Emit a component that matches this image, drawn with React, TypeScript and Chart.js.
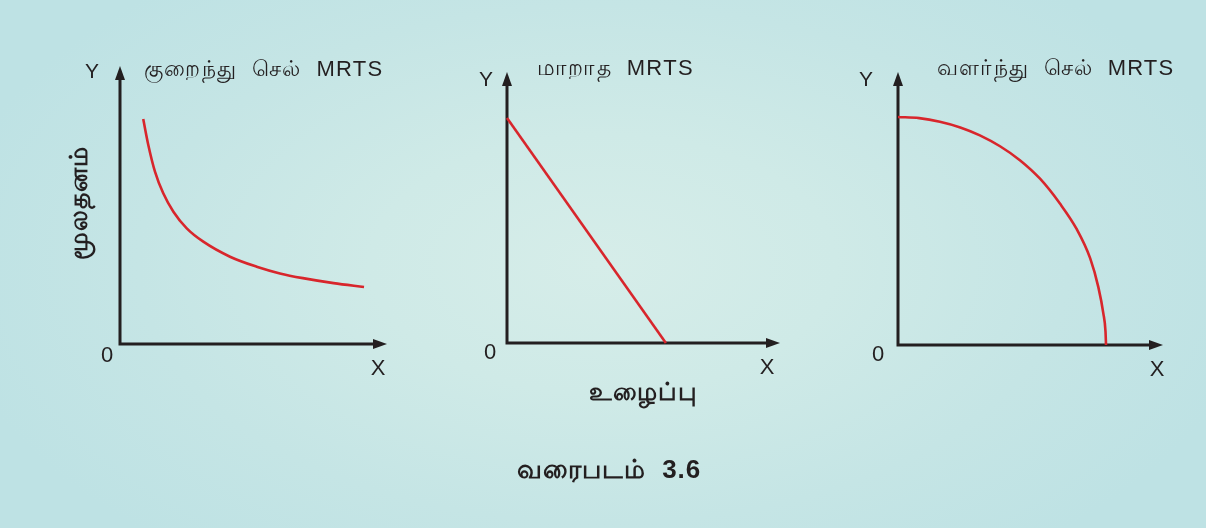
import { useEffect, useRef } from "react";
import { Chart, registerables } from "chart.js";

Chart.register(...registerables);

// ---- Data ----
const TITLES = ["குறைந்து  செல்  MRTS", "மாறாத  MRTS", "வளர்ந்து  செல்  MRTS"];
const AXIS_Y_LABEL = "Y";
const AXIS_X_LABEL = "X";
const ORIGIN_LABEL = "0";
const CAPITAL_LABEL = "மூலதனம்";
const LABOUR_LABEL = "உழைப்பு";
const CAPTION = "வரைபடம்  3.6";

const DIMINISHING_X = [0.87, 1.06, 1.31, 1.62, 2.0, 2.5, 3.12, 4.12, 5.12, 5.99, 6.85, 8.0, 9.14];
const DIMINISHING_Y = [8.09, 7.16, 6.2, 5.42, 4.76, 4.16, 3.68, 3.14, 2.78, 2.54, 2.37, 2.19, 2.05];

const CONSTANT_X = [0, 5.82];
const CONSTANT_Y = [8.3, 0];

const INCREASING_X = [0, 0.8, 1.58, 2.35, 3.09, 3.85, 4.6, 5.36, 6.11, 6.74, 7.25, 7.56, 7.75, 7.83, 7.85];
const INCREASING_Y = [8.35, 8.31, 8.18, 7.97, 7.68, 7.28, 6.77, 6.09, 5.18, 4.25, 3.18, 2.12, 1.15, 0.5, 0];

const toPoints = (xs: number[], ys: number[]) => xs.map((x, i) => ({ x, y: ys[i] }));

const INK = "#231f20";
const RED = "#d8262c";
const FONT = "'Liberation Sans', Arial, 'Noto Sans', sans-serif";

type Label = {
  text: string;
  ref: "tl" | "bl" | "br";
  dx: number;
  dy: number;
  align: CanvasTextAlign;
  size: number;
  bold?: boolean;
  rotate?: boolean;
  spacing?: number;
};

type Panel = {
  left: number;
  width: number;
  padding: { left: number; top: number; right: number; bottom: number };
  xs: number[];
  ys: number[];
  curved: boolean;
  labels: Label[];
};

const PANELS: Panel[] = [
  {
    left: 0,
    width: 402,
    padding: { left: 120, top: 66, right: 15, bottom: 184 },
    xs: DIMINISHING_X,
    ys: DIMINISHING_Y,
    curved: true,
    labels: [
      { text: AXIS_Y_LABEL, ref: "tl", dx: -28, dy: 6, align: "center", size: 21 },
      { text: TITLES[0], ref: "tl", dx: 24, dy: 4, align: "left", size: 22, spacing: 1.3 },
      { text: ORIGIN_LABEL, ref: "bl", dx: -13, dy: 12, align: "center", size: 22 },
      { text: AXIS_X_LABEL, ref: "br", dx: -9, dy: 25, align: "center", size: 22 },
      { text: CAPITAL_LABEL, ref: "tl", dx: -40, dy: 137, align: "center", size: 25, bold: true, rotate: true, spacing: 1 },
    ],
  },
  {
    left: 402,
    width: 402,
    padding: { left: 105, top: 72, right: 24, bottom: 185 },
    xs: CONSTANT_X,
    ys: CONSTANT_Y,
    curved: false,
    labels: [
      { text: AXIS_Y_LABEL, ref: "tl", dx: -21, dy: 8, align: "center", size: 21 },
      { text: TITLES[1], ref: "tl", dx: 30, dy: -3, align: "left", size: 22, spacing: 1.3 },
      { text: ORIGIN_LABEL, ref: "bl", dx: -17, dy: 10, align: "center", size: 22 },
      { text: AXIS_X_LABEL, ref: "br", dx: -13, dy: 25, align: "center", size: 22 },
      { text: LABOUR_LABEL, ref: "bl", dx: 136, dy: 50, align: "center", size: 25, bold: true, spacing: 1 },
      { text: CAPTION, ref: "bl", dx: 102, dy: 128, align: "center", size: 26, bold: true, spacing: 1 },
    ],
  },
  {
    left: 804,
    width: 402,
    padding: { left: 94, top: 72, right: 43, bottom: 183 },
    xs: INCREASING_X,
    ys: INCREASING_Y,
    curved: true,
    labels: [
      { text: AXIS_Y_LABEL, ref: "tl", dx: -32, dy: 8, align: "center", size: 21 },
      { text: TITLES[2], ref: "tl", dx: 39, dy: -3, align: "left", size: 22, spacing: 1.2 },
      { text: ORIGIN_LABEL, ref: "bl", dx: -20, dy: 10, align: "center", size: 22 },
      { text: AXIS_X_LABEL, ref: "br", dx: -6, dy: 25, align: "center", size: 22 },
    ],
  },
];

const axesPlugin = {
  id: "mrtsAxes",
  beforeDatasetsDraw(chart: any) {
    const { ctx, chartArea } = chart;
    const { top, right } = chartArea;
    const x0 = chart.scales.x.getPixelForValue(0);
    const y0 = chart.scales.y.getPixelForValue(0);
    ctx.save();
    ctx.strokeStyle = INK;
    ctx.fillStyle = INK;
    ctx.lineWidth = 3;
    ctx.lineJoin = "miter";
    ctx.beginPath();
    ctx.moveTo(x0, top + 10);
    ctx.lineTo(x0, y0);
    ctx.lineTo(right - 10, y0);
    ctx.stroke();
    ctx.beginPath();
    ctx.moveTo(x0, top);
    ctx.lineTo(x0 - 5, top + 14);
    ctx.lineTo(x0 + 5, top + 14);
    ctx.closePath();
    ctx.fill();
    ctx.beginPath();
    ctx.moveTo(right, y0);
    ctx.lineTo(right - 14, y0 - 5);
    ctx.lineTo(right - 14, y0 + 5);
    ctx.closePath();
    ctx.fill();
    ctx.restore();
  },
  afterDraw(chart: any, _args: any, opts: any) {
    const { ctx, chartArea } = chart;
    const labels: Label[] = opts.labels || [];
    ctx.save();
    ctx.fillStyle = INK;
    ctx.textBaseline = "middle";
    for (const l of labels) {
      const by = l.ref === "tl" ? chartArea.top : chartArea.bottom;
      const x = (l.ref === "br" ? chartArea.right : chartArea.left) + l.dx;
      const y = by + l.dy;
      ctx.font = `${l.bold ? "bold " : ""}${l.size}px ${FONT}`;
      (ctx as any).letterSpacing = `${l.spacing || 0}px`;
      ctx.textAlign = l.align;
      if (l.rotate) {
        ctx.save();
        ctx.translate(x, y);
        ctx.rotate(-Math.PI / 2);
        ctx.fillText(l.text, 0, 0);
        ctx.restore();
      } else {
        ctx.fillText(l.text, x, y);
      }
    }
    ctx.restore();
  },
};

function PanelChart({ panel }: { panel: Panel }) {
  const ref = useRef<HTMLCanvasElement | null>(null);
  useEffect(() => {
    if (!ref.current) return;
    const chart = new Chart(ref.current, {
      type: "scatter",
      data: {
        datasets: [
          {
            data: toPoints(panel.xs, panel.ys),
            showLine: true,
            borderColor: RED,
            borderWidth: 2.6,
            pointRadius: 0,
            cubicInterpolationMode: panel.curved ? "monotone" : "default",
            tension: 0,
            clip: false,
          } as any,
        ],
      },
      options: {
        animation: false,
        responsive: false,
        devicePixelRatio: 1,
        layout: { padding: panel.padding },
        scales: {
          x: { type: "linear", min: 0, max: 10, display: false },
          y: { type: "linear", min: 0, max: 10, display: false },
        },
        plugins: {
          legend: { display: false },
          tooltip: { enabled: false },
          mrtsAxes: { labels: panel.labels },
        } as any,
      },
      plugins: [axesPlugin as any],
    });
    return () => chart.destroy();
  }, [panel]);
  return (
    <canvas
      ref={ref}
      width={panel.width}
      height={528}
      style={{ position: "absolute", left: panel.left, top: 0, width: panel.width, height: 528 }}
    />
  );
}

export default function App() {
  return (
    <div
      style={{
        position: "fixed",
        left: 0,
        top: 0,
        width: 1206,
        height: 528,
        overflow: "hidden",
        background:
          "radial-gradient(ellipse 55% 70% at 50% 50%, #d6ede9 0%, #cfeae7 35%, #c5e5e5 70%, #bee2e4 100%)",
      }}
    >
      {PANELS.map((p, i) => (
        <PanelChart key={i} panel={p} />
      ))}
    </div>
  );
}
